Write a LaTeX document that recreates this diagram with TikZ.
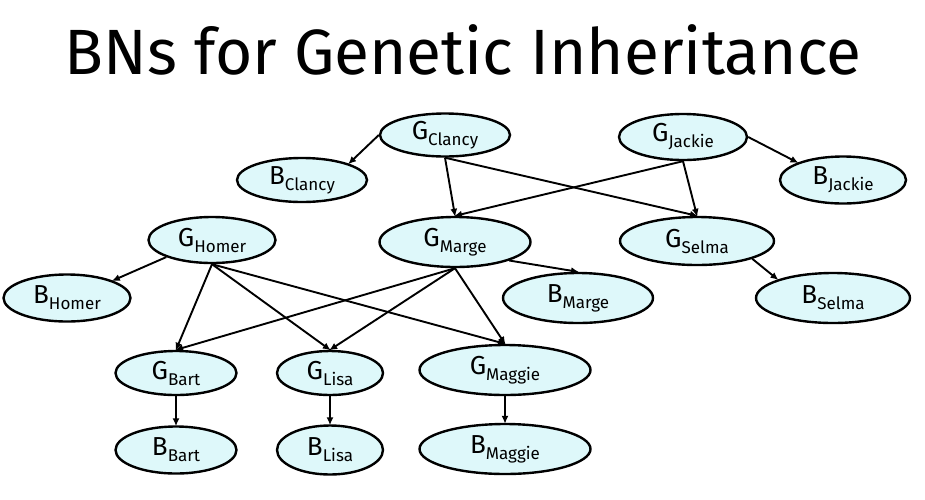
\documentclass[tikz,border=0pt]{standalone}
\usepackage{fontspec}
\setmainfont{Fira Sans}
\usetikzlibrary{shapes.geometric,arrows.meta}
\definecolor{nodefill}{RGB}{222,248,250}
\newcommand{\gsub}[2]{#1\raisebox{-6pt}{\fontsize{17}{17}\selectfont #2}}
\tikzset{
  var/.style={ellipse, draw=black, line width=2.4pt, fill=nodefill, inner sep=0pt,
    font=\fontsize{26}{26}\selectfont},
  edge/.style={line width=1.9pt, -{Latex[length=8pt,width=7pt]}, shorten >=-1pt}
}
\begin{document}
\begin{tikzpicture}[x=1pt,y=-1pt]
\useasboundingbox (0,0) rectangle (925,499);
\node (title) at (463,50) {\fontsize{64}{64}\selectfont BNs for Genetic Inheritance};
% top row
\node[var, minimum width=130pt, minimum height=43pt] (gc) at (445,135) {\gsub{G}{Clancy}};
\node[var, minimum width=128pt, minimum height=46pt] (gj) at (683,137) {\gsub{G}{Jackie}};
\node[var, minimum width=130pt, minimum height=44pt] (bc) at (302,180) {\gsub{B}{Clancy}};
\node[var, minimum width=126pt, minimum height=47pt] (bj) at (843,180) {\gsub{B}{Jackie}};
% middle row
\node[var, minimum width=127pt, minimum height=46pt] (gh) at (212,240) {\gsub{G}{Homer}};
\node[var, minimum width=151pt, minimum height=50pt] (gm) at (455,242) {\gsub{G}{Marge}};
\node[var, minimum width=154pt, minimum height=48pt] (gs) at (697,241) {\gsub{G}{Selma}};
\node[var, minimum width=127pt, minimum height=47pt] (bh) at (67,298) {\gsub{B}{Homer}};
\node[var, minimum width=150pt, minimum height=50pt] (bm) at (578,298) {\gsub{B}{Marge}};
\node[var, minimum width=154pt, minimum height=50pt] (bs) at (833,298) {\gsub{B}{Selma}};
% bottom rows
\node[var, minimum width=121pt, minimum height=44pt] (gb) at (176,373) {\gsub{G}{Bart}};
\node[var, minimum width=106pt, minimum height=44pt] (gl) at (330,373) {\gsub{G}{Lisa}};
\node[var, minimum width=171pt, minimum height=50pt] (gg) at (505,370) {\gsub{G}{Maggie}};
\node[var, minimum width=121pt, minimum height=47pt] (bb) at (176,450) {\gsub{B}{Bart}};
\node[var, minimum width=106pt, minimum height=49pt] (bl) at (330,450) {\gsub{B}{Lisa}};
\node[var, minimum width=171pt, minimum height=50pt] (bg) at (505,449) {\gsub{B}{Maggie}};
% edges
\draw[edge] (gc.west) -- (bc.north east);
\draw[edge] (gc.south) -- (gm.north);
\draw[edge] (gc.south) -- (gs.north);
\draw[edge] (gj.south) -- (gm.north);
\draw[edge] (gj.south) -- (gs.north);
\draw[edge] (gj.east) -- (bj.north west);
\draw[edge] (gh.south west) -- (bh.north east);
\draw[edge] (gh.south) -- (gb.north);
\draw[edge] (gh.south) -- (gl.north);
\draw[edge] (gh.south) -- (gg.north);
\draw[edge] (gm.south) -- (gb.north);
\draw[edge] (gm.south) -- (gl.north);
\draw[edge] (gm.south) -- (gg.north);
\draw[edge] (gm.south east) -- (bm.north);
\draw[edge] (gs.south east) -- (bs.north west);
\draw[edge] (gb.south) -- (bb.north);
\draw[edge] (gl.south) -- (bl.north);
\draw[edge] (gg.south) -- (bg.north);
\end{tikzpicture}
\end{document}
